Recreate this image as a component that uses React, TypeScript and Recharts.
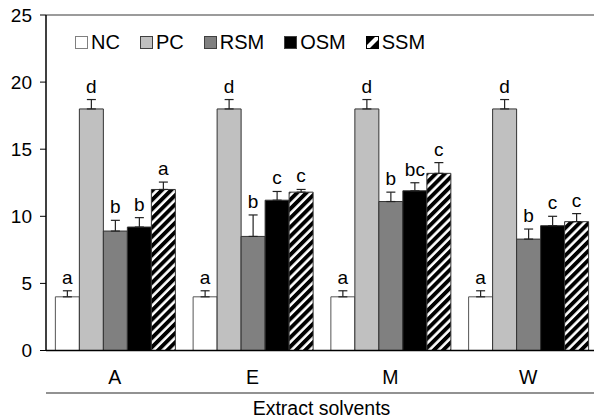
import { Bar, BarChart, ErrorBar, ReferenceLine, XAxis, YAxis } from 'recharts';

const categories = ['A', 'E', 'M', 'W'];
const seriesNames = ['NC', 'PC', 'RSM', 'OSM', 'SSM'];

const ncValues = [4.0, 4.0, 4.0, 4.0];
const pcValues = [18.0, 18.0, 18.0, 18.0];
const rsmValues = [8.9, 8.5, 11.1, 8.3];
const osmValues = [9.2, 11.2, 11.9, 9.3];
const ssmValues = [12.0, 11.8, 13.2, 9.6];

const ncErrors = [0.45, 0.45, 0.45, 0.45];
const pcErrors = [0.7, 0.7, 0.7, 0.7];
const rsmErrors = [0.8, 1.6, 0.7, 0.75];
const osmErrors = [0.7, 0.65, 0.6, 0.7];
const ssmErrors = [0.55, 0.2, 0.8, 0.6];

const ncLetters = ['a', 'a', 'a', 'a'];
const pcLetters = ['d', 'd', 'd', 'd'];
const rsmLetters = ['b', 'b', 'b', 'b'];
const osmLetters = ['b', 'c', 'bc', 'c'];
const ssmLetters = ['a', 'c', 'c', 'c'];

const yTicks = [0, 5, 10, 15, 20, 25];

const values: Record<string, number[]> = { NC: ncValues, PC: pcValues, RSM: rsmValues, OSM: osmValues, SSM: ssmValues };
const errors: Record<string, number[]> = { NC: ncErrors, PC: pcErrors, RSM: rsmErrors, OSM: osmErrors, SSM: ssmErrors };
const letters: Record<string, string[]> = { NC: ncLetters, PC: pcLetters, RSM: rsmLetters, OSM: osmLetters, SSM: ssmLetters };

const fills: Record<string, string> = {
  NC: '#ffffff',
  PC: '#c0c0c0',
  RSM: '#808080',
  OSM: '#000000',
  SSM: 'url(#hatch)',
};

const data = categories.map((name, i) => {
  const row: Record<string, string | number> = { name };
  seriesNames.forEach((s) => {
    row[s] = values[s][i];
    row[`${s}_err`] = errors[s][i];
  });
  return row;
});

const FONT = '"Liberation Sans", Arial, sans-serif';

function letterLabel(series: string) {
  return (props: any) => {
    const vb = props.viewBox || {};
    const x = props.x ?? vb.x;
    const y = props.y ?? vb.y;
    const width = props.width ?? vb.width;
    const height = props.height ?? vb.height;
    const index = props.index;
    const v = values[series][index];
    const errPx = (errors[series][index] * Math.abs(height)) / v;
    return (
      <text
        key={`${series}-${index}`}
        x={x + width / 2}
        y={Math.min(y, y + height) - errPx - 7}
        textAnchor="middle"
        fontSize={19}
        fontFamily={FONT}
        fill="#000"
      >
        {letters[series][index]}
      </text>
    );
  };
}

function AxisTitle(props: any) {
  const vb = props.viewBox || {};
  const lineY = vb.y + 42.5;
  return (
    <g>
      <line x1={vb.x} x2={vb.x + vb.width} y1={lineY} y2={lineY} stroke="#6e6e6e" strokeWidth={1.5} />
      <text x={vb.x + vb.width / 2} y={vb.y + 64} textAnchor="middle" fontSize={19.5} fontFamily={FONT} fill="#000">
        Extract solvents
      </text>
    </g>
  );
}

function LegendBox({ name }: { name: string }) {
  if (name === 'SSM') {
    return (
      <svg width={13} height={13} style={{ display: 'block' }}>
        <rect x={0.5} y={0.5} width={12} height={12} fill="#000" stroke="#000" />
        <polygon points="1,9 9,1 12,1 12,4 4,12 1,12" fill="#fff" />
      </svg>
    );
  }
  return (
    <svg width={13} height={13} style={{ display: 'block' }}>
      <rect x={0.5} y={0.5} width={12} height={12} fill={fills[name]} stroke={name === 'NC' ? '#808080' : '#404040'} />
    </svg>
  );
}

export default function App() {
  return (
    <div style={{ position: 'absolute', left: 0, top: 0, width: 594, height: 418, overflow: 'hidden', background: '#fff' }}>
      <svg width={0} height={0} style={{ position: 'absolute' }}>
        <defs>
          <pattern id="hatch" patternUnits="userSpaceOnUse" width={6.5} height={6.5} patternTransform="rotate(45)">
            <rect x={0} y={0} width={6.5} height={6.5} fill="#ffffff" />
            <rect x={0} y={0} width={3.9} height={6.5} fill="#000000" />
          </pattern>
        </defs>
      </svg>
      <BarChart
        width={600}
        height={418}
        data={data}
        margin={{ top: 15, right: 3, bottom: 0, left: 0 }}
        barCategoryGap="6.8%"
        barGap={0}
      >
        <ReferenceLine y={25} stroke="#7a7a7a" strokeWidth={1.5} ifOverflow="visible" />
        <XAxis
          dataKey="name"
          height={67.5}
          tickLine={false}
          tickSize={0}
          tickMargin={20}
          axisLine={{ stroke: '#000', strokeWidth: 1.5 }}
          tick={{ fontSize: 19.5, fontFamily: FONT, fill: '#000' }}
          label={{ content: AxisTitle }}
        />
        <YAxis
          width={46}
          domain={[0, 25]}
          ticks={yTicks}
          interval={0}
          tickSize={6}
          tickMargin={8}
          axisLine={{ stroke: '#000', strokeWidth: 1.5 }}
          tickLine={{ stroke: '#000' }}
          tick={{ fontSize: 19, fontFamily: FONT, fill: '#000' }}
        />
        {seriesNames.map((s) => (
          <Bar
            key={s}
            dataKey={s}
            fill={fills[s]}
            stroke={s === 'NC' ? '#555' : '#333'}
            strokeWidth={1}
            isAnimationActive={false}
            label={letterLabel(s)}
          >
            <ErrorBar
              dataKey={(d: any) => [0, d[`${s}_err`]]}
              width={4.5}
              stroke="#222"
              strokeWidth={1.2}
              direction="y"
              isAnimationActive={false}
            />
          </Bar>
        ))}
      </BarChart>
      <div
        style={{
          position: 'absolute',
          left: 75,
          top: 32,
          display: 'flex',
          alignItems: 'center',
          fontFamily: FONT,
          fontSize: 20,
          color: '#000',
          lineHeight: '20px',
        }}
      >
        {seriesNames.map((s) => (
          <div key={s} style={{ display: 'flex', alignItems: 'center', marginRight: 20 }}>
            <LegendBox name={s} />
            <span style={{ marginLeft: 3 }}>{s}</span>
          </div>
        ))}
      </div>
    </div>
  );
}
